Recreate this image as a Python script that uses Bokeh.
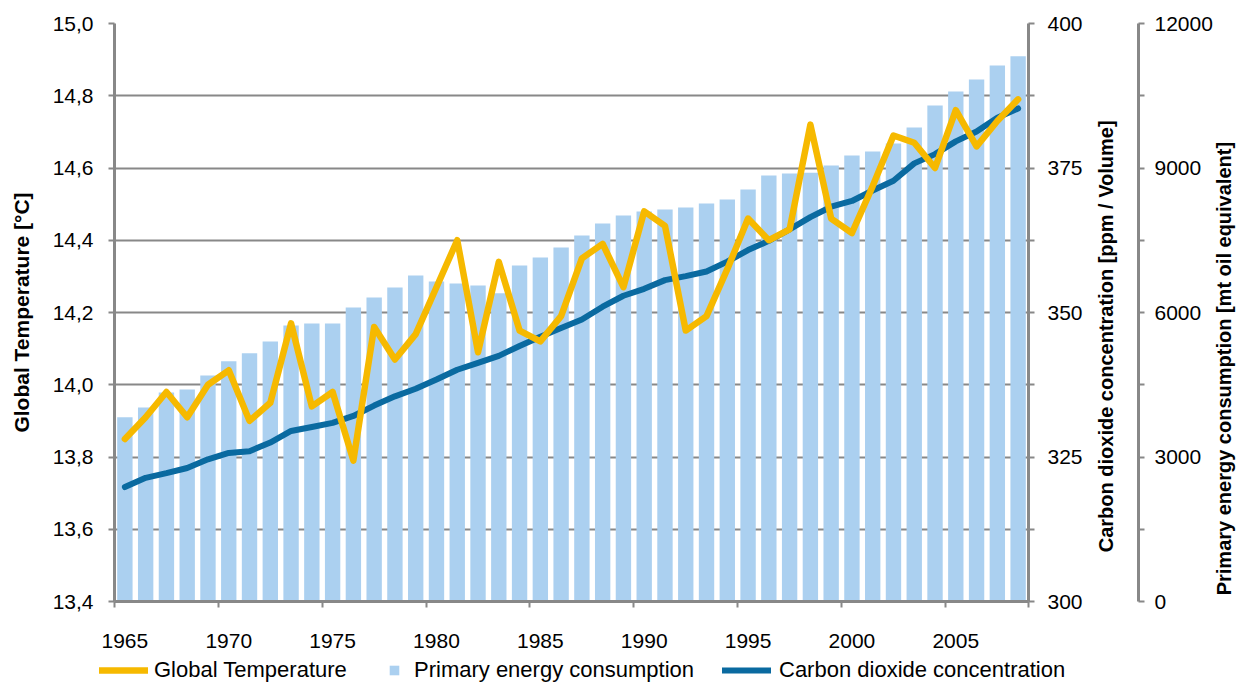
from math import pi
from bokeh.plotting import figure
from bokeh.layouts import column
from bokeh.models import (Range1d, LinearAxis, FixedTicker, CustomJSTickFormatter,
                          ColumnDataSource, Legend, LegendItem)
from bokeh.embed import file_html
from bokeh.resources import INLINE

# ---------------- data ----------------
years = list(range(1965, 2009))

temperature = [13.85, 13.91, 13.98, 13.91, 14.00, 14.04, 13.90, 13.95, 14.17, 13.94,
               13.98, 13.79, 14.16, 14.07, 14.14, 14.27, 14.40, 14.09, 14.34, 14.15,
               14.12, 14.19, 14.35, 14.39, 14.27, 14.48, 14.44, 14.15, 14.19, 14.32,
               14.46, 14.40, 14.43, 14.72, 14.46, 14.42, 14.55, 14.69, 14.67, 14.60,
               14.76, 14.66, 14.73, 14.79]

co2 = [319.8, 321.4, 322.2, 323.1, 324.6, 325.7, 326.0, 327.5, 329.5, 330.2,
       330.9, 332.1, 333.9, 335.5, 336.8, 338.4, 340.1, 341.3, 342.5, 344.2,
       345.8, 347.3, 348.8, 351.0, 352.9, 354.1, 355.6, 356.3, 357.1, 358.8,
       360.8, 362.4, 364.4, 366.5, 368.3, 369.3, 371.1, 372.8, 375.8, 377.4,
       379.6, 381.3, 383.7, 385.3]

energy = [3826, 4028, 4339, 4401, 4692, 4989, 5155, 5398, 5730, 5772,
          5772, 6104, 6311, 6519, 6768, 6644, 6602, 6560, 6400, 6976,
          7142, 7349, 7599, 7848, 8014, 8097, 8138, 8180, 8263, 8346,
          8554, 8844, 8886, 8900, 9052, 9259, 9342, 9509, 9841, 10297,
          10588, 10837, 11128, 11321]

x_label_years = [1965, 1970, 1975, 1980, 1985, 1990, 1995, 2000, 2005]
temp_ticks = [13.4, 13.6, 13.8, 14.0, 14.2, 14.4, 14.6, 14.8, 15.0]
co2_ticks = [300, 325, 350, 375, 400]
co2_minor = [312.5, 337.5, 362.5, 387.5]
energy_ticks = [0, 3000, 6000, 9000, 12000]
energy_minor = [1500, 4500, 7500, 10500]

series_names = ["Global Temperature", "Primary energy consumption", "Carbon dioxide concentration"]
axis_titles = ["Global Temperature [°C]",
               "Carbon dioxide concentration [ppm / Volume]",
               "Primary energy consumption [mt oil equivalent]"]

# ---------------- style ----------------
YELLOW = "#F6B900"
BLUE = "#0A6AA0"
BAR = "#ABD0F0"
GRAY = "#888888"
FONT = "Liberation Sans"
TICK_FS = "21px"
TITLE_FS = "20px"
NAN = float("nan")

src = ColumnDataSource(dict(year=years, temp=temperature, co2=co2, energy=energy))

p = figure(width=1249, height=652, output_backend="svg", toolbar_location=None,
           x_range=Range1d(years[0] - 0.5, years[-1] + 0.5),
           y_range=Range1d(temp_ticks[0], temp_ticks[-1]),
           min_border_left=114, min_border_right=213, min_border_top=23, min_border_bottom=51)
p.outline_line_color = None
p.background_fill_color = "white"
p.border_fill_color = "white"

p.extra_y_ranges = {"co2": Range1d(co2_ticks[0], co2_ticks[-1]),
                    "energy": Range1d(energy_ticks[0], energy_ticks[-1])}

# grid
p.xgrid.visible = False
p.ygrid.ticker = FixedTicker(ticks=temp_ticks)
p.ygrid.grid_line_color = GRAY
p.ygrid.grid_line_width = 2

# x axis
boundaries = [years[0] - 0.5] + [y - 0.5 for y in x_label_years[1:]] + [years[-1] + 0.5]
xa = p.xaxis[0]
xa.ticker = FixedTicker(ticks=x_label_years, minor_ticks=boundaries)
xa.major_tick_out = 0
xa.major_tick_in = 0
xa.major_tick_line_color = None
xa.minor_tick_out = 6
xa.minor_tick_in = 0
xa.minor_tick_line_color = GRAY
xa.minor_tick_line_width = 2
xa.axis_line_color = GRAY
xa.axis_line_width = 3
xa.major_label_standoff = 26
xa.major_label_text_font = FONT
xa.major_label_text_font_size = TICK_FS
xa.major_label_text_color = "black"

# left axis
ya = p.yaxis[0]
ya.ticker = FixedTicker(ticks=temp_ticks)
ya.formatter = CustomJSTickFormatter(code="return tick.toFixed(1).replace('.', ',')")
ya.major_tick_out = 6
ya.major_tick_in = 0
ya.minor_tick_out = 0
ya.minor_tick_in = 0
ya.major_tick_line_color = GRAY
ya.major_tick_line_width = 2
ya.axis_line_color = GRAY
ya.axis_line_width = 3
ya.major_label_standoff = 15
ya.major_label_text_font = FONT
ya.major_label_text_font_size = TICK_FS
ya.major_label_text_color = "black"
ya.axis_label = axis_titles[0]
ya.axis_label_text_font = FONT
ya.axis_label_text_font_size = "21px"
ya.axis_label_text_font_style = "bold"
ya.axis_label_text_color = "black"
ya.axis_label_standoff = 17


def style_right(ax, standoff):
    ax.major_tick_out = 6
    ax.major_tick_in = 0
    ax.minor_tick_out = 6
    ax.minor_tick_in = 0
    ax.major_tick_line_color = GRAY
    ax.minor_tick_line_color = GRAY
    ax.major_tick_line_width = 2
    ax.minor_tick_line_width = 2
    ax.axis_line_color = GRAY
    ax.axis_line_width = 3
    ax.major_label_standoff = standoff
    ax.major_label_text_font = FONT
    ax.major_label_text_font_size = TICK_FS
    ax.major_label_text_color = "black"


def blank_axis(range_name, tick, gap, formatter):
    ax = LinearAxis(y_range_name=range_name, ticker=FixedTicker(ticks=[tick]), formatter=formatter)
    ax.axis_line_color = None
    ax.major_tick_line_color = None
    ax.minor_tick_line_color = None
    ax.major_tick_out = gap
    ax.major_tick_in = 0
    ax.minor_tick_out = 0
    ax.minor_tick_in = 0
    ax.major_label_standoff = 0
    return ax


def title_axis(range_name, mid, title, gap):
    """An axis without line/ticks whose single (rotated) tick label is the title."""
    ax = blank_axis(range_name, mid, gap,
                    CustomJSTickFormatter(args=dict(t=title), code="return t"))
    ax.major_label_orientation = pi / 2
    ax.major_label_text_font = FONT
    ax.major_label_text_font_size = TITLE_FS
    ax.major_label_text_font_style = "bold"
    ax.major_label_text_color = "black"
    return ax


co2_axis = LinearAxis(y_range_name="co2", ticker=FixedTicker(ticks=co2_ticks, minor_ticks=co2_minor))
style_right(co2_axis, 13)
p.add_layout(co2_axis, "right")
p.add_layout(title_axis("co2", (co2_ticks[0] + co2_ticks[-1]) / 2, axis_titles[1], 20), "right")
# spacer between the CO2 title and the energy axis
p.add_layout(blank_axis("co2", co2_ticks[0], 8, CustomJSTickFormatter(code="return ''")), "right")

energy_axis = LinearAxis(y_range_name="energy", ticker=FixedTicker(ticks=energy_ticks, minor_ticks=energy_minor))
style_right(energy_axis, 10)
p.add_layout(energy_axis, "right")
p.add_layout(title_axis("energy", (energy_ticks[0] + energy_ticks[-1]) / 2, axis_titles[2], 9), "right")

# ---------------- glyphs ----------------
p.vbar(x="year", top="energy", bottom=0, width=0.74, source=src,
       y_range_name="energy", fill_color=BAR, line_color=None)
p.line(x="year", y="co2", source=src, y_range_name="co2",
       line_color=BLUE, line_width=6, line_join="round", line_cap="round")
p.line(x="year", y="temp", source=src,
       line_color=YELLOW, line_width=6.5, line_join="round", line_cap="round")

# ---------------- legend strip (separate small figure) ----------------
q = figure(width=1249, height=31, output_backend="svg", toolbar_location=None,
           x_range=Range1d(0, 1), y_range=Range1d(0, 1),
           x_axis_type=None, y_axis_type=None,
           min_border=0, min_border_left=0, min_border_right=0,
           min_border_top=0, min_border_bottom=0)
if "frame_align" in q.properties():
    q.frame_align = False
    p.frame_align = False
q.outline_line_color = None
q.background_fill_color = "white"
q.border_fill_color = "white"
# key renderers: one undefined point each, so nothing is drawn in the strip itself
k_temp = q.line(x=[NAN], y=[NAN], line_color=YELLOW, line_width=6.5, line_cap="round")
k_bar = q.scatter(x=[NAN], y=[NAN], marker="square", size=10, fill_color=BAR, line_color=None)
k_co2 = q.line(x=[NAN], y=[NAN], line_color=BLUE, line_width=6, line_cap="round")


def add_key(name, rend, loc, gw, standoff):
    lg = Legend(items=[LegendItem(label=name, renderers=[rend])], location=loc,
                orientation="horizontal", glyph_width=gw, glyph_height=24,
                label_standoff=standoff, padding=0, margin=0, spacing=0,
                border_line_color=None, background_fill_alpha=0,
                label_text_font=FONT, label_text_font_size="22px", label_text_color="black")
    q.add_layout(lg, "center")


add_key(series_names[0], k_temp, (99, 0), 49, 6)
add_key(series_names[1], k_bar, (381, 0), 26, 7)
add_key(series_names[2], k_co2, (722, 0), 49, 8)

open("out.html", "w").write(file_html(column(p, q, spacing=0), INLINE))
